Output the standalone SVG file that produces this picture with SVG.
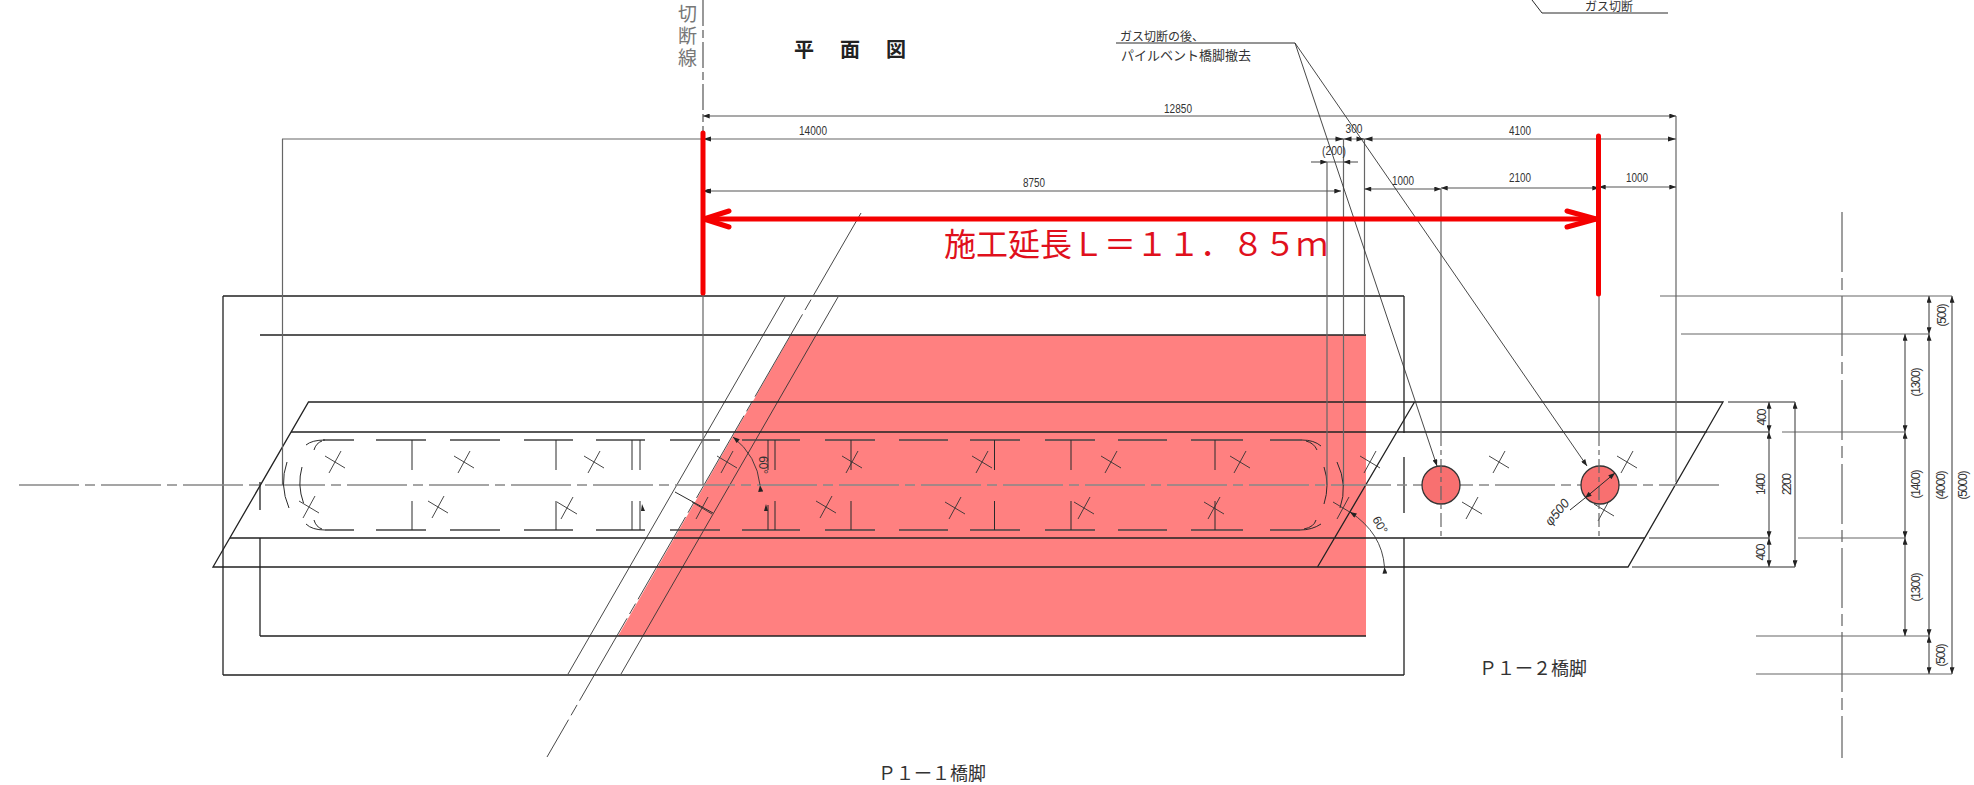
<svg xmlns="http://www.w3.org/2000/svg" width="1974" height="785" viewBox="0 0 1974 785">
<style>
text{font-family:"Noto Sans CJK JP","Liberation Sans",sans-serif;fill:#333;dominant-baseline:central}
.n{font-family:"Liberation Sans","Noto Sans CJK JP",sans-serif;font-size:12px;text-anchor:middle;fill:#333}
.t{font-size:18px;fill:#333}
.l,.k,.f,.d,.g,.c,.b{fill:none}
.l{stroke:#222;stroke-width:1.3}
.k{stroke:#2a2a2a;stroke-width:1}
.f{stroke:#333;stroke-width:.9}
.d{stroke:#555;stroke-width:1.2;marker-start:url(#a);marker-end:url(#a)}
.g{stroke:#666;stroke-width:1.2}
.c{stroke:#888;stroke-width:1.6}
.b{stroke:#444;stroke-width:1.4}
.r{fill:none;stroke:#f50000;stroke-width:5;stroke-linecap:round;stroke-linejoin:round}
</style>
<defs>
<marker id="a" viewBox="0 -3 8 6" refX="8" refY="0" markerWidth="8" markerHeight="5" markerUnits="userSpaceOnUse" orient="auto-start-reverse"><path d="M0,-3L8,0L0,3Z" fill="#222"/></marker>
<marker id="e" viewBox="0 -3 8 6" refX="8" refY="0" markerWidth="8" markerHeight="5" markerUnits="userSpaceOnUse" orient="auto"><path d="M0,-3L8,0L0,3Z" fill="#222"/></marker>
<path id="x" d="M-10,-6L10,6M6,-11L-6,11"/>
</defs>

<g id="fill-area"><path d="M791,335H1366V636H618Z" fill="#ff8080"/></g>

<g id="footing">
<path class="l" d="M223,296H1404M223,675H1404M223,296V675M1404,296V433M1404,457V513M1404,538V675"/>
<path class="l" d="M260,335H1366M260,636H1366M260,538V636M260,482V510"/>
<path class="f" d="M568,674L785,297M621,674L838,297"/>
<path class="f" d="M861,213L547,757" stroke-dasharray="95 5 12 5"/>
</g>

<g id="pier">
<path class="l" d="M308.500,402H1723L1628,567H213Z"/>
<path class="l" d="M291,432H1707M230,538H1645M1414.500,402L1317.500,567"/>
</g>

<g id="center-lines">
<path class="c" d="M19,485H1723" stroke-dasharray="60 6 10 6"/>
<path class="c" d="M1842,212V758" stroke-dasharray="60 6 12 6"/>
<path class="f" stroke-dasharray="26 4 8 4" d="M703,0V133" style="stroke:#555;stroke-width:1.2"/>
</g>

<g id="bracing">
<path class="b" d="M323,440H354M376,440H426M450,440H500M524,440H573M596,440H645M670,440H720M742,440H800M825,440H875M899,440H948M970,440H1020M1045,440H1095M1118,440H1167M1191,440H1243M1270,440H1302"/>
<path class="b" d="M325,530H354M376,530H426M450,530H500M524,530H573M596,530H645M670,530H720M742,530H800M825,530H875M899,530H948M970,530H1020M1045,530H1095M1118,530H1167M1191,530H1243M1270,530H1300"/>
<path class="k" d="M412,440V470M556,440V470M632,440V470M640,440V470M768,440V470M775,440V470M851,440V470M994.500,440V470M1071,440V470M1215,440V470"/>
<path class="k" d="M412,501V530M556,501V530M632,501V530M640,501V530M768,505V530M775,501V530M851,501V530M994.500,501V530M1071,501V530M1215,501V530"/>
<path class="k" d="M287,462Q279,485 289,508M302,467Q297,485 303.500,503M306,445Q312,440 325,440M314,450Q316,443 322,441M306,524Q312,530 325,530M314,520Q316,527 322,529"/>
<path class="k" d="M1324,467Q1330,485 1324,504M1337,462Q1348,485 1340,508M1302,440Q1314,440 1321,446M1317,450Q1314,443 1306,441M1300,530Q1312,530 1321,524M1316,520Q1314,527 1304,529"/>
<path class="k" d="M675,492L713,513"/>
<path d="M642,504l3,7h-4zM766,504l2,7h-4z" fill="#222"/>
</g>

<g id="bolts" class="f">
<use href="#x" x="335" y="462"/><use href="#x" x="464" y="462"/><use href="#x" x="594" y="462"/><use href="#x" x="727" y="462"/><use href="#x" x="852" y="462"/><use href="#x" x="982" y="462"/><use href="#x" x="1111" y="462"/><use href="#x" x="1240" y="462"/><use href="#x" x="1370" y="462"/><use href="#x" x="1499" y="462"/><use href="#x" x="1627" y="462"/>
<use href="#x" x="309" y="507"/><use href="#x" x="438" y="507"/><use href="#x" x="567" y="508"/><use href="#x" x="702" y="508"/><use href="#x" x="826" y="507"/><use href="#x" x="955" y="508"/><use href="#x" x="1084" y="508"/><use href="#x" x="1214" y="508"/><use href="#x" x="1343" y="508"/><use href="#x" x="1472" y="508"/><use href="#x" x="1604" y="510"/>
</g>

<g id="piles">
<circle id="pile-1" cx="1441" cy="485" r="19" fill="#f87070" stroke="#333" stroke-width="1.300"/>
<circle id="pile-2" cx="1600" cy="485" r="19" fill="#f87070" stroke="#333" stroke-width="1.300"/>
</g>

<g id="connectors">
<path class="g" d="M282.500,139V485M703,293V485M1327,162V485M1343.500,139V485M1364.500,139V335M1441,189V432M1599,187V432M1676,116V482"/>
<path class="g" d="M1441,432V540M1599,432V540" stroke-dasharray="14 4 5 4"/>
<path class="d" d="M703,116H1676"/>
<path class="g" d="M282,139H1676"/>
<path class="d" d="M703,191H1341"/>
<path d="M703,139l8,-2.500v5zM1676,139l-8,-2.500v5zM703,191l8,-2.500v5z" fill="#222"/>
<path class="g" style="marker-end:url(#e)" d="M1311,162H1327"/>
<path class="g" style="marker-end:url(#e)" d="M1358,162H1343.500"/>
<path class="g" d="M1327,162H1343.500M1335,139H1343.500"/>
<path d="M1343.500,139l-8,-2.500v5zM1343.500,139l8,-2.500v5zM1364.500,139l-8,-2.500v5zM1364.500,139l8,-2.500v5z" fill="#222"/>
<path class="d" d="M1364.500,189H1441"/>
<path class="d" d="M1441,188H1599"/>
<path class="d" d="M1599,187H1676"/>
<path class="k" d="M1116,43H1295"/>
<path class="f" style="marker-end:url(#e)" d="M1295,43L1437,466"/>
<path class="f" style="marker-end:url(#e)" d="M1295,43L1587,466"/>
<path class="k" d="M1532,0L1542,13H1668"/>
<path class="g" d="M1660,296H1952M1681,334H1929M1782,432H1905M1798,538H1905M1756,636H1929M1756,674H1952"/>
<path class="d" d="M1905,334V432"/><path class="d" d="M1905,432V538"/><path class="d" d="M1905,538V636"/>
<path class="d" d="M1929,296V334"/><path class="d" d="M1929,334V636"/><path class="d" d="M1929,636V674"/>
<path class="d" d="M1952,296V674"/>
<path class="k" d="M1728,402H1795M1707,432H1769M1649,538H1769M1632,567H1795"/>
<path class="d" d="M1769,402V432"/><path class="d" d="M1769,432V538"/><path class="d" d="M1769,538V567"/>
<path class="d" d="M1795,402V567"/>
<path class="f" style="marker-start:url(#e);marker-end:url(#e)" d="M760,485Q757,456 733,437"/>
<path class="f" style="marker-start:url(#e);marker-end:url(#e)" d="M1384.500,567Q1382,533 1350,512"/>
<path class="k" style="marker-start:url(#a);marker-end:url(#a)" d="M1585,498L1615,473"/>
<path class="k" d="M1570,510L1585,498"/>
</g>

<g id="extent-red">
<path class="r" d="M703,133V293M1598.500,136V294M703,219H1596"/>
<path class="r" d="M729,211L704,219L729,227M1567,211L1596,219L1567,227"/>
</g>

<g id="labels">
<text class="n" x="1178" y="109" textLength="28" lengthAdjust="spacingAndGlyphs">12850</text>
<text class="n" x="813" y="131" textLength="28" lengthAdjust="spacingAndGlyphs">14000</text>
<text class="n" x="1034" y="183" textLength="22" lengthAdjust="spacingAndGlyphs">8750</text>
<text class="n" x="1334" y="151" textLength="24" lengthAdjust="spacingAndGlyphs">(200)</text>
<text class="n" x="1354" y="129" textLength="17" lengthAdjust="spacingAndGlyphs">300</text>
<text class="n" x="1520" y="131" textLength="22" lengthAdjust="spacingAndGlyphs">4100</text>
<text class="n" x="1403" y="181" textLength="22" lengthAdjust="spacingAndGlyphs">1000</text>
<text class="n" x="1520" y="178" textLength="22" lengthAdjust="spacingAndGlyphs">2100</text>
<text class="n" x="1637" y="178" textLength="22" lengthAdjust="spacingAndGlyphs">1000</text>
<text class="n" transform="rotate(-90 1942 315)" x="1942" y="315" textLength="23">(500)</text>
<text class="n" transform="rotate(-90 1916 382)" x="1916" y="382" textLength="29">(1300)</text>
<text class="n" transform="rotate(-90 1916 484)" x="1916" y="484" textLength="29">(1400)</text>
<text class="n" transform="rotate(-90 1916 587)" x="1916" y="587" textLength="29">(1300)</text>
<text class="n" transform="rotate(-90 1941 485)" x="1941" y="485" textLength="29">(4000)</text>
<text class="n" transform="rotate(-90 1963 485)" x="1963" y="485" textLength="29">(5000)</text>
<text class="n" transform="rotate(-90 1941 655)" x="1941" y="655" textLength="23">(500)</text>
<text class="n" transform="rotate(-90 1762 417)" x="1762" y="417" textLength="17">400</text>
<text class="n" transform="rotate(-90 1761 484)" x="1761" y="484" textLength="22">1400</text>
<text class="n" transform="rotate(-90 1761 552)" x="1761" y="552" textLength="17">400</text>
<text class="n" transform="rotate(-90 1787 484)" x="1787" y="484" textLength="22">2200</text>
<text class="n" transform="rotate(90 763 465)" x="763" y="465">60°</text>
<text class="n" transform="rotate(60 1380 525)" x="1380" y="525">60°</text>
<text class="n" transform="rotate(-50 1557 512)" x="1557" y="512" font-style="italic" style="font-size:13px">φ500</text>
<text x="1120" y="35" font-size="12">ガス切断の後、</text>
<text x="1121" y="54" font-size="13">パイルベント橋脚撤去</text>
<text x="1609" y="5" font-size="12" text-anchor="middle">ガス切断</text>
<text x="687.500" y="4" font-size="19" style="fill:#777;writing-mode:vertical-rl;letter-spacing:3px;dominant-baseline:auto">切断線</text>
<text x="804" y="48" font-size="20" font-weight="700" text-anchor="middle" style="fill:#222">平</text>
<text x="850" y="48" font-size="20" font-weight="700" text-anchor="middle" style="fill:#222">面</text>
<text x="896" y="48" font-size="20" font-weight="700" text-anchor="middle" style="fill:#222">図</text>
<text class="t" x="878" y="772">Ｐ１ー１橋脚</text>
<text class="t" x="1479" y="667">Ｐ１ー２橋脚</text>
<text x="944" y="242" font-size="32" style="fill:#e0101c">施工延長Ｌ＝１１．８５ｍ</text>
</g>
</svg>
